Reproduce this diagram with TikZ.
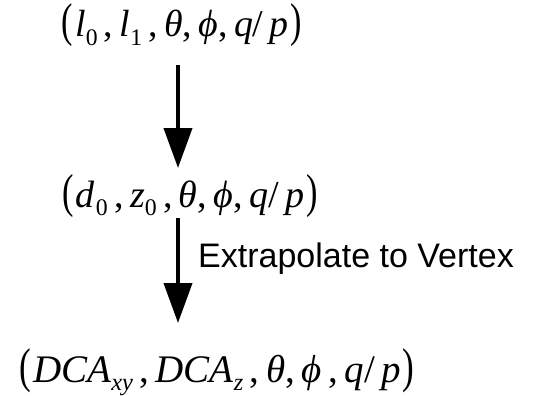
\documentclass[tikz,border=0pt]{standalone}
\usepackage{fontspec}
\usepackage{graphicx}
\usetikzlibrary{arrows.meta}
\newfontfamily\mathser{Liberation Serif}
\newfontfamily\labsans{Liberation Sans}
\newcommand\sbx[1]{\raisebox{-0.22em}{\fontsize{25}{25}\selectfont #1}}
\newcommand\lpar{\scalebox{0.9}[1.25]{(}\kern2pt}
\newcommand\rpar{\kern2pt\scalebox{0.9}[1.25]{)}}
\tikzset{
  formula/.style={inner sep=0pt, anchor=base, font=\mathser\fontsize{40}{40}\selectfont},
  steplabel/.style={inner sep=0pt, anchor=base west, font=\labsans\fontsize{34}{34}\selectfont},
  bigarrow/.style={line width=4pt, -{Triangle[length=40pt,width=28pt]}}
}
\begin{document}
\begin{tikzpicture}[x=1pt,y=-1pt]
\useasboundingbox[fill=white] (0,0) rectangle (552,396);
\node[formula] (t1) at (182,37) {\resizebox{240pt}{!}{\lpar\textit{l}\sbx{0}\,,\,\textit{l}\sbx{1}\,,\,\textit{θ},\,\textit{ϕ},\,\textit{q}/\,\textit{p}\rpar}};
\node[formula] (t2) at (190,207) {\resizebox{255pt}{!}{\lpar\textit{d}\kern1pt\sbx{0}\,,\,\textit{z}\sbx{0}\,,\,\textit{θ},\,\textit{ϕ},\,\textit{q}/\,\textit{p}\rpar}};
\node[formula] (t3) at (217,382) {\resizebox{395pt}{!}{\lpar\textit{DCA}\sbx{\textit{xy}}\,,\,\textit{DCA}\sbx{\textit{z}}\,,\,\textit{θ},\,\textit{ϕ}\,,\,\textit{q}/\,\textit{p}\rpar}};
\coordinate (a1s) at (178,65);
\coordinate (a1e) at (178,168);
\coordinate (a2s) at (178,218);
\coordinate (a2e) at (178,323);
\draw[bigarrow] (a1s) -- (a1e);
\draw[bigarrow] (a2s) -- (a2e);
\node[steplabel] (lab) at (198,267) {Extrapolate to Vertex};
\end{tikzpicture}
\end{document}
